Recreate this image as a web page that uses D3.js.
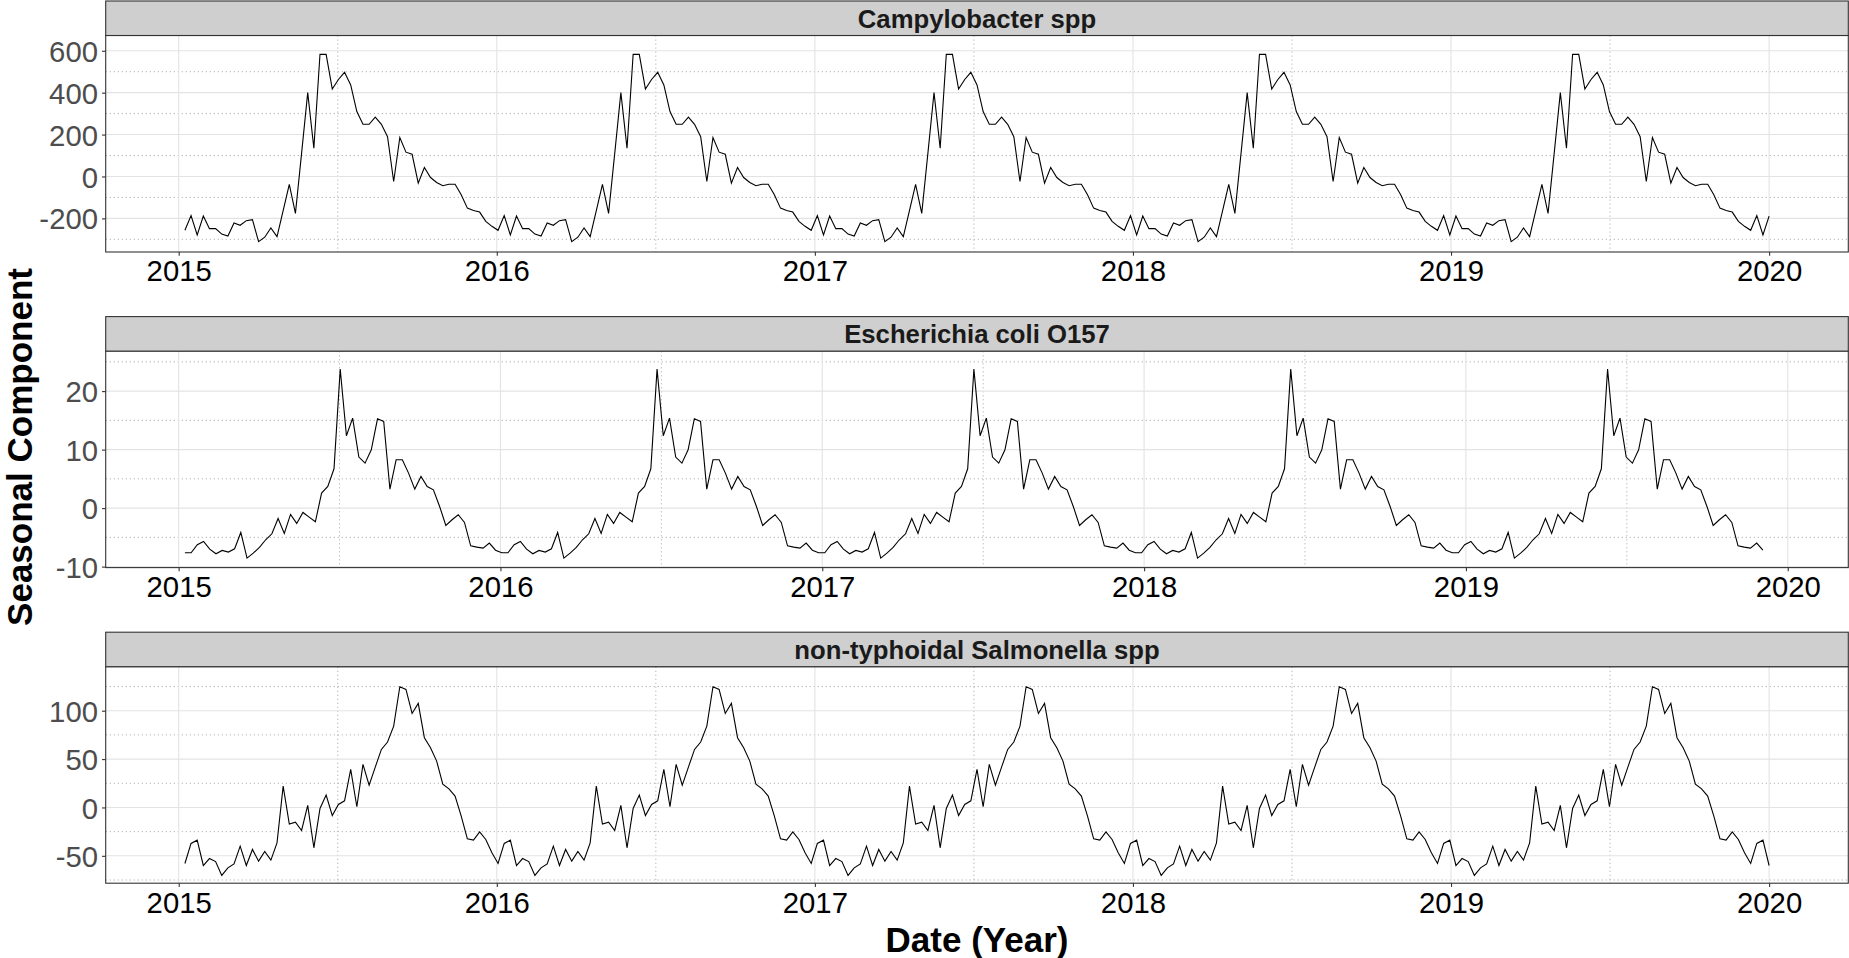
<!DOCTYPE html>
<html>
<head>
<meta charset="utf-8">
<script src="https://cdn.jsdelivr.net/npm/d3@7"></script>
<style>
  html, body { margin: 0; padding: 0; background: #ffffff; }
  svg { display: block; font-family: "Liberation Sans", Arial, Helvetica, sans-serif; }
</style>
</head>
<body>
<svg id="chart" width="1849" height="958"></svg>
<script>
// ---------------- DATA ----------------
const panelTitles = ["Campylobacter spp", "Escherichia coli O157", "non-typhoidal Salmonella spp"];

// one seasonal cycle (weekly values) of each seasonal component; the cycle repeats in the series
const campyCycle = [-257, -187, -279, -189, -249, -249, -275, -284, -222, -233,
  -211, -206, -311, -290, -246, -287, -163, -38, -176, 110,
  400, 135, 583, 583, 417, 463, 497, 437, 310, 249,
  249, 283, 249, 190, -24, 186, 116, 106, -32, 43,
  -5, -29, -44, -37, -37, -87, -151, -162, -170, -214, -238];

const ecoliCycle = [-7.64, -7.64, -6.27, -5.70, -7.01, -7.81, -7.24, -7.52, -6.95, -4.16,
  -8.55, -7.7, -6.72, -5.41, -4.39, -1.77, -4.33, -1.08, -2.62, -0.74,
  -1.54, -2.34, 2.56, 3.70, 6.72, 23.76, 12.36, 15.38, 8.72, 7.69,
  9.97, 15.27, 14.81, 3.25, 8.26, 8.26, 5.98, 3.25, 5.41, 3.70,
  3.13, 0.28, -2.96, -1.99, -1.14, -2.45, -6.44, -6.67, -6.84, -5.98, -7.2];

const salmCycle = [-57.9, -37.2, -33.8, -60, -52.8, -55.9, -70.3, -62.4, -58.3, -40,
  -60, -43.4, -55.5, -45.5, -54.5, -36.6, 22.1, -17.2, -15.2, -23.8,
  2.1, -41.7, -1.0, 12.8, -8.3, 3.1, 6.9, 39.3, 0.7, 44.5,
  23.1, 41.7, 60, 67.6, 84.1, 124.8, 122, 97.2, 107.6, 72.1,
  61.7, 47.9, 24.1, 19.3, 11.7, -9.0, -32.4, -33.8, -25.2, -33.1, -46.9];

// weekly time points of each series, observed values among them, first time point and step (decimal years)
const seriesTimePoints = [259, 256, 259];
const seriesObserved = [259, 255, 259];   // E. coli: last week has no value
const firstTime = 2015.0195;
const weekStep = 0.019304;

// axis ticks
const xTickYears = [2015, 2016, 2017, 2018, 2019, 2020];
const xMinorYears = [2015.5, 2016.5, 2017.5, 2018.5, 2019.5];
const campyYTicks = [-200, 0, 200, 400, 600];
const campyYMinor = [-300, -100, 100, 300, 500];
const ecoliYTicks = [-10, 0, 10, 20];
const ecoliYMinor = [-5, 5, 15, 25];
const salmYTicks = [-50, 0, 50, 100];
const salmYMinor = [-75, -25, 25, 75, 125];
// y ranges of the panels as shown
const campyYRange = [-360.5, 672.9];
const ecoliYRange = [-10.17, 26.84];
const salmYRange = [-78.3, 145.5];

const yTitle = "Seasonal Component";
const xTitle = "Date (Year)";

// ---------------- BUILD ----------------
function buildSeries(cycle, nTimes, nObs) {
  const out = [];
  for (let i = 0; i < nTimes; i++) {
    out.push({ t: firstTime + i * weekStep, v: i < nObs ? cycle[i % cycle.length] : null });
  }
  return out;
}

const panels = [
  { title: panelTitles[0], data: buildSeries(campyCycle, seriesTimePoints[0], seriesObserved[0]), ticks: campyYTicks, minor: campyYMinor, range: campyYRange },
  { title: panelTitles[1], data: buildSeries(ecoliCycle, seriesTimePoints[1], seriesObserved[1]), ticks: ecoliYTicks, minor: ecoliYMinor, range: ecoliYRange },
  { title: panelTitles[2], data: buildSeries(salmCycle, seriesTimePoints[2], seriesObserved[2]), ticks: salmYTicks, minor: salmYMinor, range: salmYRange }
];

const svg = d3.select("#chart");
const L = 105.7, R = 1848.3;
const stripH = 34.5, plotH = 216.5, panelStep = 315.6, firstTop = 1;
const tickFont = 29.3, stripFont = 25.7, titleFont = 35;

panels.forEach((p, i) => {
  const top = firstTop + i * panelStep;
  const pTop = top + stripH, pBot = pTop + plotH;
  const ext = d3.extent(p.data, d => d.t);
  const pad = (ext[1] - ext[0]) * 0.05;
  const x = d3.scaleLinear().domain([ext[0] - pad, ext[1] + pad]).range([L, R]);
  const y = d3.scaleLinear().domain(p.range).range([pBot, pTop]);

  const g = svg.append("g");

  g.append("rect").attr("x", L).attr("y", pTop).attr("width", R - L).attr("height", plotH).attr("fill", "#fff");

  // minor grid (dotted)
  g.selectAll(".hmin").data(p.minor).join("line")
    .attr("x1", L).attr("x2", R).attr("y1", d => y(d)).attr("y2", d => y(d))
    .attr("stroke", "#b8b8b8").attr("stroke-width", 1).attr("stroke-dasharray", "1.3,2.7");
  g.selectAll(".vmin").data(xMinorYears.filter(d => x(d) > L && x(d) < R)).join("line")
    .attr("y1", pTop).attr("y2", pBot).attr("x1", d => x(d)).attr("x2", d => x(d))
    .attr("stroke", "#b8b8b8").attr("stroke-width", 1).attr("stroke-dasharray", "1.3,2.7");
  // major grid
  g.selectAll(".hmaj").data(p.ticks).join("line")
    .attr("x1", L).attr("x2", R).attr("y1", d => y(d)).attr("y2", d => y(d))
    .attr("stroke", "#e3e3e3").attr("stroke-width", 1.1);
  g.selectAll(".vmaj").data(xTickYears).join("line")
    .attr("y1", pTop).attr("y2", pBot).attr("x1", d => x(d)).attr("x2", d => x(d))
    .attr("stroke", "#e3e3e3").attr("stroke-width", 1.1);

  // series line
  const line = d3.line().defined(d => d.v !== null).x(d => x(d.t)).y(d => y(d.v));
  g.append("path").datum(p.data).attr("d", line)
    .attr("fill", "none").attr("stroke", "#000").attr("stroke-width", 1.1).attr("stroke-linejoin", "miter");

  // border
  g.append("rect").attr("x", L).attr("y", pTop).attr("width", R - L).attr("height", plotH)
    .attr("fill", "none").attr("stroke", "#333").attr("stroke-width", 1.1);

  // strip
  g.append("rect").attr("x", L).attr("y", top).attr("width", R - L).attr("height", stripH)
    .attr("fill", "#cfcfcf").attr("stroke", "#333").attr("stroke-width", 1.1);
  g.append("text").attr("x", (L + R) / 2).attr("y", top + stripH / 2).attr("dy", "0.36em")
    .attr("text-anchor", "middle").attr("font-weight", "bold").attr("font-size", stripFont)
    .attr("fill", "#1a1a1a").text(p.title);

  // y axis
  const yAxis = d3.axisLeft(y).tickValues(p.ticks).tickSize(3.7).tickPadding(4).tickFormat(d => String(d));
  const ya = g.append("g").attr("transform", `translate(${L},0)`).call(yAxis);
  ya.select(".domain").remove();
  ya.selectAll("line").attr("stroke", "#333").attr("stroke-width", 1.1);
  ya.selectAll("text").attr("font-size", tickFont).attr("fill", "#4d4d4d")
    .attr("font-family", "'Liberation Sans', Arial, sans-serif").attr("dy", "0.36em");

  // x axis
  const xAxis = d3.axisBottom(x).tickValues(xTickYears).tickSize(3.7).tickPadding(4).tickFormat(d => String(d));
  const xa = g.append("g").attr("transform", `translate(0,${pBot})`).call(xAxis);
  xa.select(".domain").remove();
  xa.selectAll("line").attr("stroke", "#333").attr("stroke-width", 1.1);
  xa.selectAll("text").attr("font-size", tickFont).attr("fill", "#000")
    .attr("font-family", "'Liberation Sans', Arial, sans-serif").attr("dy", "0.74em");
});

// axis titles
svg.append("text").attr("transform", "translate(32,447) rotate(-90)")
  .attr("text-anchor", "middle").attr("font-weight", "bold").attr("font-size", titleFont)
  .attr("fill", "#000").text(yTitle);
svg.append("text").attr("x", (L + R) / 2).attr("y", 952)
  .attr("text-anchor", "middle").attr("font-weight", "bold").attr("font-size", titleFont)
  .attr("fill", "#000").text(xTitle);
</script>
</body>
</html>
